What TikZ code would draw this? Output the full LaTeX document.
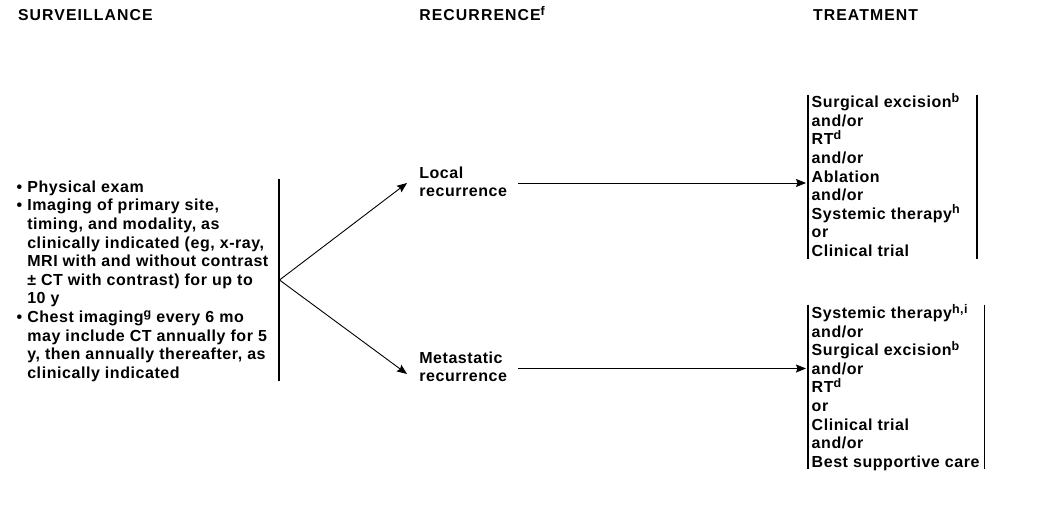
\documentclass[tikz,border=0pt]{standalone}
\usepackage{fontspec}
\setmainfont{Liberation Sans}[LetterSpace=3.5]
\newfontfamily\hdrfont{Liberation Sans}[LetterSpace=7]
\usetikzlibrary{arrows.meta}
\newcommand\sups[1]{\raisebox{5.5pt}{\fontsize{12.5}{10}\selectfont #1}}
\newcommand\fl{\rule{0pt}{15pt}}
\newcommand\bul{\llap{\textbullet\hspace{5pt}}}
\tikzset{
  txt/.style={inner sep=0pt, outer sep=0pt, align=left, anchor=north west,
    font=\fontsize{16}{18.6}\selectfont\bfseries},
  hdr/.style={inner sep=0pt, outer sep=0pt, anchor=base west,
    font=\hdrfont\fontsize{15.8}{18}\selectfont\bfseries},
  bar/.style={line width=1.8pt},
  arr/.style={line width=0.9pt, -{Stealth[length=10pt,width=8pt,inset=1.5pt]}}
}
\begin{document}
\begin{tikzpicture}[x=1pt,y=-1pt]
\useasboundingbox (0,0) rectangle (1041,506);
% headers
\node[hdr] (h1) at (18,20.5) {SURVEILLANCE};
\node[hdr] (h2) at (419.3,20.5) {RECURRENCE\sups{f}};
\node[hdr] (h3) at (813,20.5) {TREATMENT};
% surveillance list
\node[txt] (surv) at (27.3,177.3) {\fl\bul Physical exam\\
\bul Imaging of primary site,\\
timing, and modality, as\\
clinically indicated (eg, x-ray,\\
MRI with and without contrast\\
± CT with contrast) for up to\\
10 y\\
\bul Chest imaging\sups{g} every 6 mo\\
may include CT annually for 5\\
y, then annually thereafter, as\\
clinically indicated};
% recurrence nodes
\node[txt] (local) at (419.3,163.3) {\fl Local\\recurrence};
\node[txt] (meta) at (419.3,348.3) {\fl Metastatic\\recurrence};
% treatment nodes
\node[txt] (tr1) at (811.7,92.7) {\fl Surgical excision\sups{b}\\
and/or\\
RT\sups{d}\\
and/or\\
Ablation\\
and/or\\
Systemic therapy\sups{h}\\
or\\
Clinical trial};
\node[txt] (tr2) at (811.7,303.5) {\fl Systemic therapy\sups{h,i}\\
and/or\\
Surgical excision\sups{b}\\
and/or\\
RT\sups{d}\\
or\\
Clinical trial\\
and/or\\
Best supportive care};
% coordinates
\coordinate (sb1) at (279,179);
\coordinate (sb2) at (279,381);
\coordinate (br) at (279.5,280);
\coordinate (le) at (407,183);
\coordinate (me) at (407,374);
\coordinate (ls) at (518,183);
\coordinate (lt) at (806,183);
\coordinate (ms) at (518,368.5);
\coordinate (mt) at (806,368.5);
\coordinate (a1) at (808,94.5);
\coordinate (a2) at (808,258.5);
\coordinate (a3) at (977,94.5);
\coordinate (a4) at (977,258.5);
\coordinate (c1) at (808,304.5);
\coordinate (c2) at (808,469);
\coordinate (c3) at (984.5,304.5);
\coordinate (c4) at (984.5,469);
% bars
\draw[bar] (sb1) -- (sb2);
\draw[bar] (a1) -- (a2);
\draw[bar] (a3) -- (a4);
\draw[bar] (c1) -- (c2);
\draw[bar] (c3) -- (c4);
% arrows
\draw[arr] (br) -- (le);
\draw[arr] (br) -- (me);
\draw[arr] (ls) -- (lt);
\draw[arr] (ms) -- (mt);
\end{tikzpicture}
\end{document}
